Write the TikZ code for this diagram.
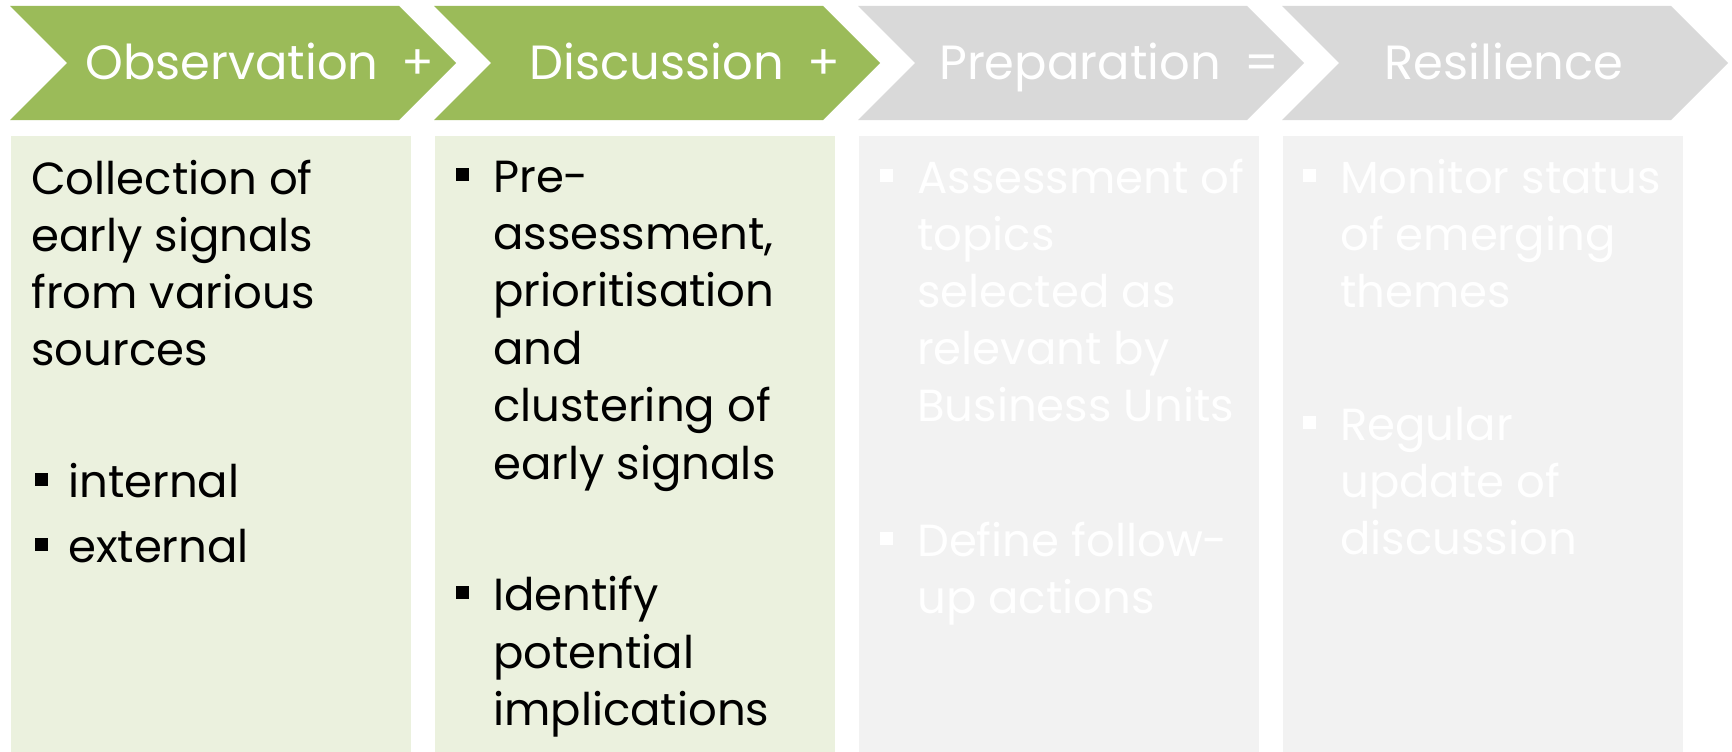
\documentclass[tikz,border=0pt]{standalone}
\usepackage{fontspec}
\setmainfont{Poppins}
\definecolor{chevgreen}{HTML}{9BBB59}
\definecolor{boxgreen}{HTML}{EBF1DE}
\definecolor{chevgray}{HTML}{D9D9D9}
\definecolor{boxgray}{HTML}{F2F2F2}
\begin{document}
\begin{tikzpicture}[x=1pt,y=-1pt,
  headtxt/.style={text=white,font=\fontsize{48}{50}\selectfont,inner sep=0pt,anchor=base},
  body/.style={font=\fontsize{45}{57}\selectfont,inner sep=0pt,anchor=base west},
  bodyw/.style={body,text=white},
  bul/.style={fill=black},
  bulw/.style={fill=white}]
\useasboundingbox (0,0) rectangle (1732,752);
\fill[white] (0,0) rectangle (1732,752);
% chevrons
\foreach \L/\c in {10/chevgreen,434/chevgreen,858/chevgray,1282/chevgray}{
  \fill[\c] (\L,6) -- (\L+389,6) -- (\L+446,63) -- (\L+389,120) -- (\L,120) -- (\L+57,63) -- cycle;
}
% boxes
\foreach \L/\c in {10/boxgreen,434/boxgreen,858/boxgray,1282/boxgray}{
  \fill[\c] (\L+1,136) rectangle (\L+401,752);
}
% headings
\node[headtxt] (h1) at (232,79) {Observation};
\node[headtxt] (p1) at (418,79) {+};
\node[headtxt] (h2) at (657,79) {Discussion};
\node[headtxt] (p2) at (824,79) {+};
\node[headtxt] (h3) at (1080,79) {Preparation};
\node[headtxt] (p3) at (1262,79) {=};
\node[headtxt] (h4) at (1504,79) {Resilience};
% box 1
\node[body] (a1) at (31,194) {Collection of};
\node[body] (a2) at (31,251) {early signals};
\node[body] (a3) at (31,308) {from various};
\node[body] (a4) at (31,365) {sources};
\fill[bul] (35,486) rectangle ++(13,-13);
\node[body] (a5) at (68,497) {internal};
\fill[bul] (35,551) rectangle ++(13,-13);
\node[body] (a6) at (68,562) {external};
% box 2
\fill[bul] (456,181) rectangle ++(13,-13);
\node[body] (b1) at (493,192) {Pre-};
\node[body] (b2) at (493,249) {assessment,};
\node[body] (b3) at (493,306) {prioritisation};
\node[body] (b4) at (493,364) {and};
\node[body] (b5) at (493,421) {clustering of};
\node[body] (b6) at (493,479) {early signals};
\fill[bul] (456,599) rectangle ++(13,-13);
\node[body] (b7) at (493,610) {Identify};
\node[body] (b8) at (493,668) {potential};
\node[body] (b9) at (493,725) {implications};
% box 3
\fill[bulw] (880,182) rectangle ++(13,-13);
\node[bodyw] (c1) at (917,193) {Assessment of};
\node[bodyw] (c2) at (917,250) {topics};
\node[bodyw] (c3) at (917,307) {selected as};
\node[bodyw] (c4) at (917,364) {relevant by};
\node[bodyw] (c5) at (917,421) {Business Units};
\fill[bulw] (880,545) rectangle ++(13,-13);
\node[bodyw] (c6) at (917,556) {Define follow-};
\node[bodyw] (c7) at (917,613) {up actions};
% box 4
\fill[bulw] (1303,182) rectangle ++(13,-13);
\node[bodyw] (d1) at (1340,193) {Monitor status};
\node[bodyw] (d2) at (1340,250) {of emerging};
\node[bodyw] (d3) at (1340,307) {themes};
\fill[bulw] (1303,429) rectangle ++(13,-13);
\node[bodyw] (d4) at (1340,440) {Regular};
\node[bodyw] (d5) at (1340,497) {update of};
\node[bodyw] (d6) at (1340,554) {discussion};
\end{tikzpicture}
\end{document}
